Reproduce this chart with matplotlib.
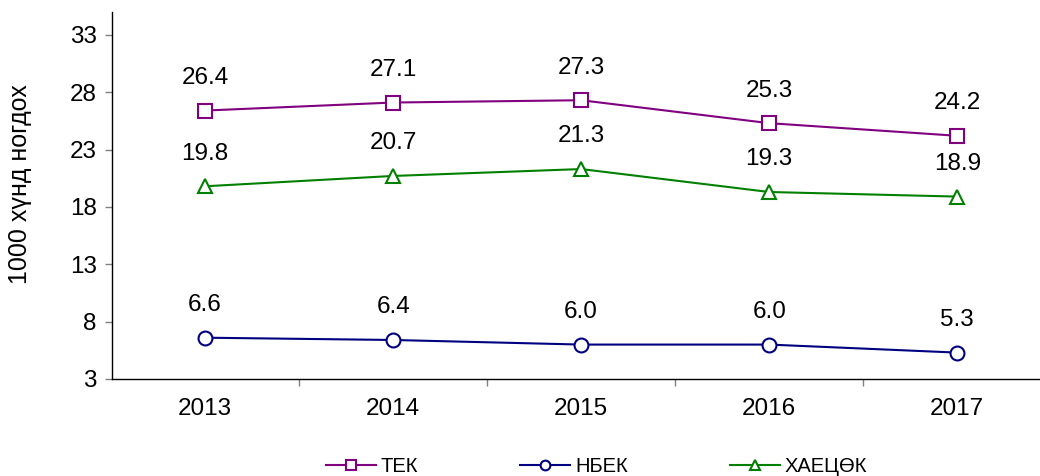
import numpy as np
import matplotlib.pyplot as plt

plt.rcParams['font.family'] = ['Liberation Sans', 'DejaVu Sans']

years = ['2013', '2014', '2015', '2016', '2017']
tek = [26.4, 27.1, 27.3, 25.3, 24.2]
nbek = [6.6, 6.4, 6.0, 6.0, 5.3]
haets = [19.8, 20.7, 21.3, 19.3, 18.9]
yticks = [3, 8, 13, 18, 23, 28, 33]

x = np.arange(len(years))

fig = plt.figure(figsize=(10.4, 4.76), dpi=100)
ax = fig.add_axes([0.1077, 0.2038, 0.8923, 0.7712])

series = [
    (tek, 'ТЕК', '#800080', 's'),
    (nbek, 'НБЕК', '#000080', 'o'),
    (haets, 'ХАЕЦӨК', '#008000', '^'),
]
for vals, name, col, mk in series:
    ax.plot(x, vals, color=col, lw=1.5, marker=mk, markersize=10,
            markerfacecolor='white', markeredgecolor=col, markeredgewidth=1.5,
            label=name)
    for xi, v in zip(x, vals):
        ax.annotate('%.1f' % v, (xi, v), xytext=(0, 23.5), textcoords='offset points',
                    ha='center', va='center', fontsize=17.5)

ax.set_yticks(yticks)
ax.set_xticks(x)
ax.set_xticklabels(years)
ax.set_xticks(np.arange(-0.5, 5, 1), minor=True)
# limits after ticks, otherwise set_xticks widens them
ax.set_xlim(-0.495, 4.44)
ax.set_ylim(3, 35)
ax.tick_params(axis='x', which='major', length=0, pad=14, labelsize=17.5)
ax.tick_params(axis='x', which='minor', length=5, color='#808080', width=1)
ax.tick_params(axis='y', length=5, color='#808080', width=1, labelsize=17.5, pad=6)

ax.spines['top'].set_visible(False)
ax.spines['right'].set_visible(False)
ax.spines['left'].set_linewidth(1)
ax.spines['bottom'].set_linewidth(1)

ax.set_ylabel('1000 хүнд ногдох', fontsize=18)
ax.yaxis.set_label_coords(-0.086, 0.531)

fig.legend(loc='center', bbox_to_anchor=(0.5736, 0.019), ncol=3, frameon=False,
           fontsize=14.5, handlelength=2.48, markerscale=0.7, columnspacing=5.06,
           handletextpad=0.25)

fig.savefig('out.png', dpi=100)
